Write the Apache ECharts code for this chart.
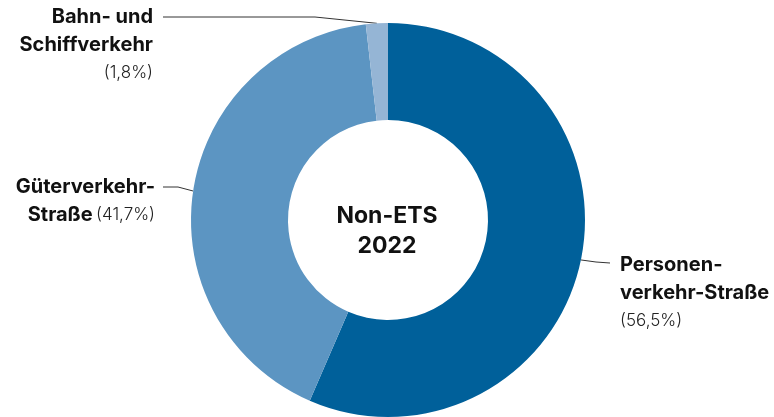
<!DOCTYPE html>
<html>
<head>
<meta charset="utf-8">
<script src="https://cdn.jsdelivr.net/npm/echarts@6/dist/echarts.min.js"></script>
<style>
html,body{margin:0;padding:0;background:#fff;}
#chart{width:774px;height:417px;}
</style>
</head>
<body>
<div id="chart"></div>
<script>
const categories = ['Personenverkehr-Straße', 'Güterverkehr-Straße', 'Bahn- und Schiffverkehr'];
const values = [56.5, 41.7, 1.8];
const labelNameLines = [['Personen-', 'verkehr-Straße'], ['Güterverkehr-', 'Straße'], ['Bahn- und', 'Schiffverkehr']];
const percentOnOwnLine = [true, false, true];
const colors = ['#00609A', '#5C95C2', '#95B5D5'];
const centerTitle = ['Non-ETS', '2022'];

const FONT = 'Inter';
const chart = echarts.init(document.getElementById('chart'));

function fmtPct(v) { return '(' + v.toFixed(1).replace('.', ',') + '%)'; }

const labelPos = [
  { x: 620, y: 251, align: 'left', pts: [[596, 262], [610, 263]] },
  { x: 155, y: 173, align: 'right', pts: [[178, 187], [163, 187]] },
  { x: 153, y: 3, align: 'right', pts: [[315, 17], [163, 17]] }
];

chart.setOption({
  animation: false,
  title: {
    text: centerTitle.join('\n'),
    left: 'center',
    top: 196,
    textStyle: { fontFamily: FONT, fontSize: 23, fontWeight: 'bold', color: '#111', lineHeight: 30, align: 'center' }
  },
  series: [{
    type: 'pie',
    center: [388, 220],
    radius: [100, 197],
    startAngle: 90,
    clockwise: true,
    color: colors,
    itemStyle: { borderWidth: 0 },
    label: {
      show: true,
      position: 'outside',
      overflow: 'none',
      fontFamily: FONT,
      formatter: function (p) {
        const i = p.dataIndex;
        const lines = labelNameLines[i].map(s => '{b|' + s + '}');
        if (percentOnOwnLine[i]) {
          lines.push('{p|' + fmtPct(values[i]) + '}');
        } else {
          lines[lines.length - 1] += ' {p|' + fmtPct(values[i]) + '}';
        }
        return lines.join('\n');
      },
      rich: {
        b: { fontFamily: FONT, fontSize: 20, fontWeight: 'bold', color: '#111', lineHeight: 28 },
        p: { fontFamily: FONT, fontSize: 17, fontWeight: 300, color: '#222', lineHeight: 28 }
      }
    },
    labelLine: { show: true, lineStyle: { color: '#333', width: 1 } },
    labelLayout: function (params) {
      const lp = labelPos[params.dataIndex];
      const start = params.labelLinePoints ? params.labelLinePoints[0] : lp.pts[0];
      return {
        x: lp.x,
        y: lp.y,
        align: lp.align,
        verticalAlign: 'top',
        labelLinePoints: [start].concat(lp.pts)
      };
    },
    data: categories.map((c, i) => ({ name: c, value: values[i] }))
  }]
});
</script>
</body>
</html>
